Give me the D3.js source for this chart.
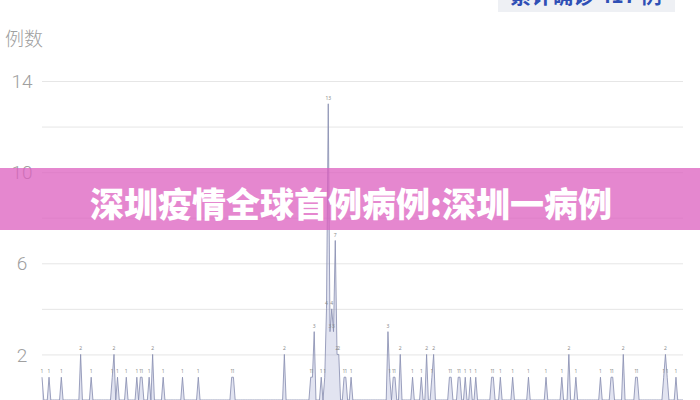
<!DOCTYPE html>
<html><head><meta charset="utf-8">
<script src="https://cdn.jsdelivr.net/npm/d3@7"></script>
<style>
html,body{margin:0;padding:0;background:#fff;overflow:hidden;}
svg{display:block;}
</style></head>
<body>
<svg id="c" width="700" height="400"></svg>
<script>
// ---- data ----
const dayCount = 366;
const caseDayIndex = [0,4,11,22,28, 40,41,43,48,54, 56,57,61,63,69, 80,89,108,109,138,
  153,154,155,159,161, 162,163,164,165,166, 167,168,169,172,173, 176,197,198,200,201,
  204,211,216,219,222, 223,232,233,237,238, 241,244,247,256,257, 261,268,277,287,296,
  300,304,318,324,325, 331,338,339,354,355, 356,361];
const caseCounts = [1,1,1,2,1, 1,2,1,1,1, 1,1,1,2,1, 1,1,1,1,2,
  1,1,3,1,1, 4,13,3,4,3, 7,2,2,1,1, 1,3,1,1,1,
  2,1,1,2,1, 2,1,1,1,1, 1,1,1,1,1, 1,1,1,1,1,
  2,1,1,1,1, 2,1,1,1,2, 1,1];
const yTicks = [2,4,6,8,10,12,14];
const yTickLabels = {14:"14",10:"10",6:"6",2:"2"};
const yAxisTitle = "例数";
const legendText = "累计确诊 417 例";
const bannerText = "深圳疫情全球首例病例:深圳一病例";

(function(){
// build daily series (days without cases are 0)
const countByDay = new Map(caseDayIndex.map((d,i)=>[d,caseCounts[i]]));
const series = d3.range(dayCount).map(d=>({day:d, value: countByDay.get(d) || 0}));

const svg = d3.select("#c");
const pLeft = 42, pRight = 683, pTop = 81, pBottom = 400;
const x = d3.scaleLinear().domain([0, dayCount-1]).range([pLeft, pRight]);
const y = d3.scaleLinear().domain([0, 14]).range([pBottom, pTop]);

// grid + y axis
const yAxis = d3.axisLeft(y).tickValues(yTicks).tickSize(-(pRight-pLeft))
  .tickFormat(d => yTickLabels[d] || "");
const ga = svg.append("g").attr("transform", `translate(${pLeft},0)`).call(yAxis);
ga.select(".domain").remove();
ga.selectAll(".tick line").attr("stroke", "#e6e6e6").attr("stroke-width", 1);
ga.selectAll(".tick text").attr("x", -20).attr("text-anchor", "middle")
  .attr("dy", "0.35em")
  .style("font-family", "Roboto, 'Noto Sans', sans-serif").style("font-weight", 300)
  .style("font-size", "19px").attr("fill", "#a0a0a0");

svg.append("text").attr("x", 5).attr("y", 46).text(yAxisTitle)
  .style("font-family", "'Noto Sans CJK SC', sans-serif").style("font-weight", 300)
  .style("font-size", "19px").attr("fill", "#a0a0a0");

// area + line
const area = d3.area().x(d=>x(d.day)).y0(y(0)).y1(d=>y(d.value));
const line = d3.line().x(d=>x(d.day)).y(d=>y(d.value));
svg.append("path").datum(series).attr("d", area)
  .attr("fill", "rgba(160,166,210,0.3)");
svg.append("path").datum(series).attr("d", line)
  .attr("fill", "none").attr("stroke", "#8a90b2").attr("stroke-width", 0.85);

// value labels
svg.append("g").selectAll("text").data(series.filter(d=>d.value>0)).join("text")
  .attr("x", d=>x(d.day)).attr("y", d=>y(d.value)-4)
  .attr("text-anchor", "middle").text(d=>d.value)
  .style("font-family", "'Noto Sans', sans-serif").style("font-size", "5px")
  .attr("fill", "#8c8c8c");

// legend box at top (cut off by the top edge, as in the reference)
svg.append("rect").attr("x", 498).attr("y", -20).attr("width", 177).attr("height", 32)
  .attr("fill", "#eef0f4");
svg.append("text").attr("x", 586).attr("y", 3).attr("text-anchor", "middle").text(legendText)
  .style("font-family", "'Noto Sans CJK SC', sans-serif").style("font-weight", 700)
  .style("font-size", "21px").attr("fill", "#2f4fb5");

// banner overlay
svg.append("rect").attr("x", 0).attr("y", 168).attr("width", 700).attr("height", 62)
  .attr("fill", "#dc5fbf").attr("opacity", 0.75);
svg.append("text").attr("x", 351).attr("y", 217).attr("text-anchor", "middle").text(bannerText)
  .style("font-family", "'Noto Sans CJK SC', sans-serif").style("font-weight", 900)
  .style("font-size", "34px").attr("fill", "#fff");
})();
</script>
</body></html>
